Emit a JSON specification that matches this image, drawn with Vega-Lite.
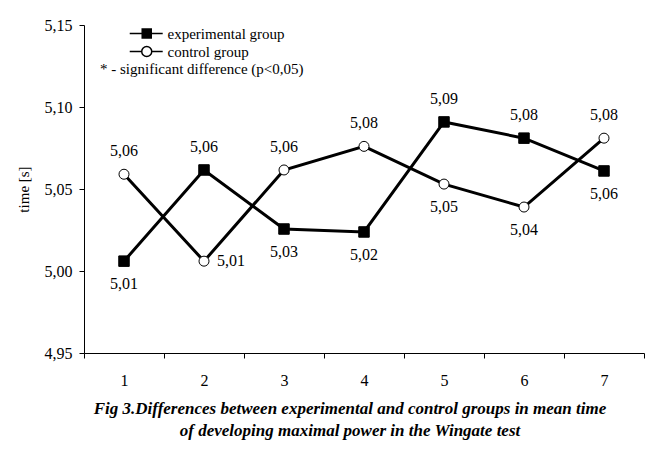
{
  "$schema": "https://vega.github.io/schema/vega-lite/v6.json",
  "width": 560,
  "height": 328,
  "autosize": {"type": "none"},
  "padding": {"left": 84, "top": 25, "right": 2, "bottom": 103},
  "background": "white",
  "title": {
    "text": ["Fig 3.Differences between experimental and control groups in mean time", "of developing maximal power in the Wingate test"],
    "orient": "bottom", "anchor": "middle", "dx": -14, "offset": 13,
    "font": "Liberation Serif", "fontSize": 17, "fontWeight": "bold", "fontStyle": "italic",
    "lineHeight": 22, "color": "black"
  },
  "data": {"values": [
    {"x": 1, "series": "experimental group", "value": 5.006},
    {"x": 2, "series": "experimental group", "value": 5.0616},
    {"x": 3, "series": "experimental group", "value": 5.0256},
    {"x": 4, "series": "experimental group", "value": 5.0238},
    {"x": 5, "series": "experimental group", "value": 5.0909},
    {"x": 6, "series": "experimental group", "value": 5.081},
    {"x": 7, "series": "experimental group", "value": 5.061},
    {"x": 1, "series": "control group", "value": 5.059},
    {"x": 2, "series": "control group", "value": 5.006},
    {"x": 3, "series": "control group", "value": 5.0616},
    {"x": 4, "series": "control group", "value": 5.076},
    {"x": 5, "series": "control group", "value": 5.053},
    {"x": 6, "series": "control group", "value": 5.039},
    {"x": 7, "series": "control group", "value": 5.081}
  ]},
  "encoding": {
    "x": {
      "field": "x", "type": "ordinal",
      "scale": {"type": "band", "paddingInner": 0, "paddingOuter": 0},
      "axis": {"title": null, "labelAngle": 0, "tickBand": "extent", "grid": false,
        "domainColor": "black", "tickColor": "black", "tickSize": 5,
        "labelFont": "Liberation Serif", "labelFontSize": 16, "labelColor": "black", "labelPadding": 14}
    },
    "y": {
      "field": "value", "type": "quantitative",
      "scale": {"domain": [4.95, 5.15], "nice": false, "zero": false},
      "axis": {"title": "time [s]", "values": [4.95, 5.0, 5.05, 5.1, 5.15], "format": ".2f", "grid": false,
        "domainColor": "black", "tickColor": "black", "tickSize": 5,
        "labelFont": "Liberation Serif", "labelFontSize": 16, "labelColor": "black", "labelPadding": 7,
        "titleFont": "Liberation Serif", "titleFontSize": 15, "titleFontWeight": "normal", "titleColor": "black",
        "titleX": -61, "titleY": 164, "titleAngle": -90, "titleAlign": "center", "titleBaseline": "middle"}
    }
  },
  "layer": [
    {
      "mark": {"type": "line", "stroke": "black", "strokeWidth": 3},
      "encoding": {"detail": {"field": "series"}}
    },
    {
      "transform": [{"filter": "datum.series === 'experimental group'"}],
      "mark": {"type": "point", "shape": "square", "filled": true, "fill": "black", "stroke": "black", "strokeWidth": 1, "size": 110, "opacity": 1}
    },
    {
      "transform": [{"filter": "datum.series === 'control group'"}],
      "mark": {"type": "point", "shape": "circle", "filled": true, "fill": "white", "stroke": "black", "strokeWidth": 1, "size": 100, "opacity": 1}
    },
    {
      "transform": [{"filter": "false"}],
      "mark": {"type": "point", "filled": true, "stroke": "black", "strokeWidth": 2.5, "opacity": 1},
      "encoding": {
        "shape": {"field": "series", "type": "nominal",
          "scale": {"domain": ["experimental group", "control group"],
            "range": ["M2.38,0H6.26M3.85,-0.53H4.91V0.53H3.85Z", "M2.38,0H3.79M4.97,0H6.26M3.79,0A0.59,0.59 0 1,0 4.97,0A0.59,0.59 0 1,0 3.79,0Z"]},
          "legend": {
            "orient": "none", "legendX": 16, "legendY": -1, "padding": 0,
            "title": "* - significant difference (p<0,05)", "titleOrient": "bottom", "titleAnchor": "start",
            "titleFont": "Liberation Serif", "titleFontSize": 15, "titleFontWeight": "normal", "titleColor": "black", "titlePadding": 2, "titleLimit": 400,
            "symbolSize": 289, "labelFont": "Liberation Serif", "labelFontSize": 15, "labelColor": "black",
            "labelOffset": 48.5, "rowPadding": 0, "labelLimit": 400
          }
        },
        "fill": {"field": "series", "type": "nominal",
          "scale": {"domain": ["experimental group", "control group"], "range": ["black", "white"]},
          "legend": {
            "orient": "none", "legendX": 16, "legendY": -1, "padding": 0,
            "title": "* - significant difference (p<0,05)", "titleOrient": "bottom", "titleAnchor": "start",
            "titleFont": "Liberation Serif", "titleFontSize": 15, "titleFontWeight": "normal", "titleColor": "black", "titlePadding": 2, "titleLimit": 400,
            "symbolSize": 289, "labelFont": "Liberation Serif", "labelFontSize": 15, "labelColor": "black",
            "labelOffset": 48.5, "rowPadding": 0, "labelLimit": 400
          }
        }
      }
    },
    {
      "transform": [
        {"joinaggregate": [{"op": "max", "field": "value", "as": "maxv"}], "groupby": ["x"]},
        {"filter": "datum.value === datum.maxv"}
      ],
      "mark": {"type": "text", "dy": -23, "baseline": "middle", "font": "Liberation Serif", "fontSize": 16, "color": "black"},
      "encoding": {"text": {"field": "value", "type": "quantitative", "format": ".2f"}}
    },
    {
      "transform": [
        {"joinaggregate": [{"op": "max", "field": "value", "as": "maxv"}], "groupby": ["x"]},
        {"filter": "datum.value < datum.maxv && !(datum.x === 2 && datum.series === 'control group')"}
      ],
      "mark": {"type": "text", "dy": 23, "baseline": "middle", "font": "Liberation Serif", "fontSize": 16, "color": "black"},
      "encoding": {"text": {"field": "value", "type": "quantitative", "format": ".2f"}}
    },
    {
      "transform": [
        {"filter": "datum.x === 2 && datum.series === 'control group'"}
      ],
      "mark": {"type": "text", "dx": 27, "baseline": "middle", "font": "Liberation Serif", "fontSize": 16, "color": "black"},
      "encoding": {"text": {"field": "value", "type": "quantitative", "format": ".2f"}}
    }
  ],
  "config": {
    "view": {"stroke": null},
    "locale": {"number": {"decimal": ",", "thousands": ".", "grouping": [3], "currency": ["", ""]}}
  }
}
